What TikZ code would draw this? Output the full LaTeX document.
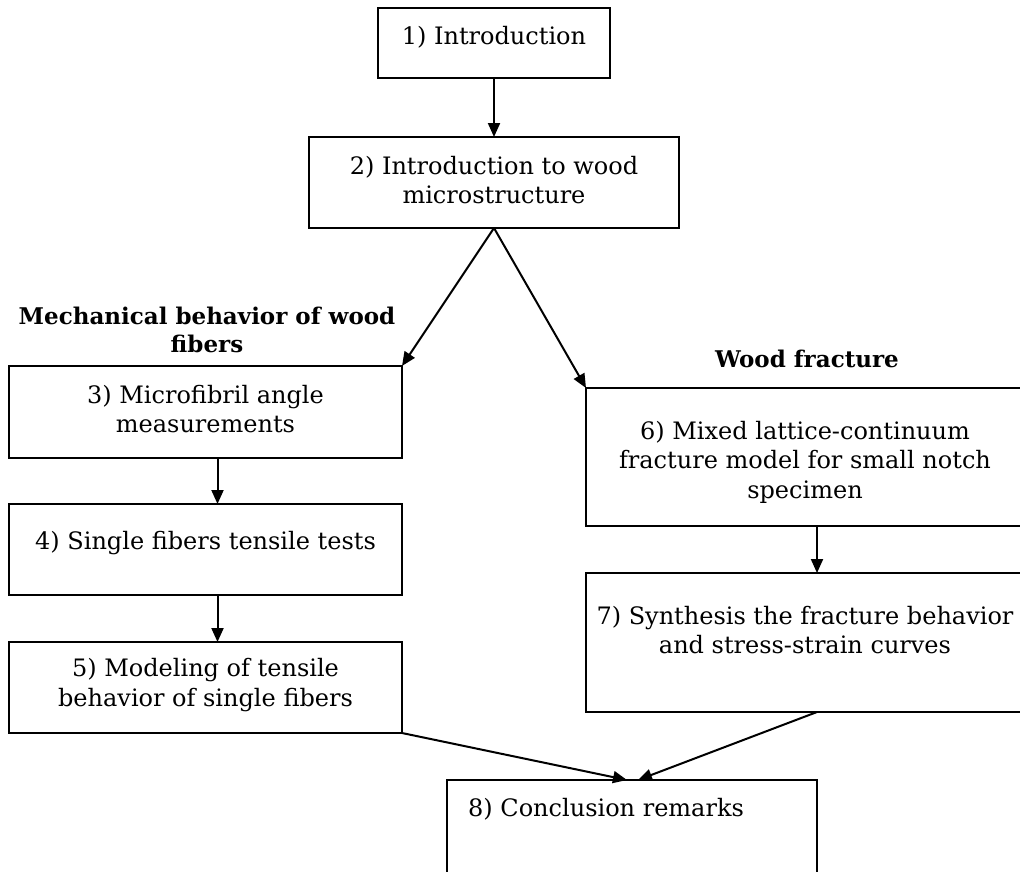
\documentclass[tikz,border=0pt]{standalone}
\usepackage{fontspec}
\setmainfont{DejaVu Serif}
\usetikzlibrary{arrows.meta}
\begin{document}
\begin{tikzpicture}[x=1pt,y=-1pt,
 box/.style={draw, line width=1.4pt, inner sep=0pt, outer sep=0pt},
 lbl/.style={align=center, font=\fontsize{24}{29.5}\selectfont, inner sep=0pt},
 hdr/.style={align=center, font=\fontsize{23}{28}\selectfont\bfseries, inner sep=0pt},
 arr/.style={line width=2pt, -{Triangle[length=14pt,width=12pt]}}]
\useasboundingbox (0,0) rectangle (1020,871);
\clip (0,0) rectangle (1020,871);
% boxes
\node[box, minimum width=232pt, minimum height=70pt] (b1) at (494,43) {};
\node[box, minimum width=370pt, minimum height=91pt] (b2) at (494,182.5) {};
\node[box, minimum width=393pt, minimum height=92pt] (b3) at (205.5,412) {};
\node[box, minimum width=393pt, minimum height=91pt] (b4) at (205.5,549.5) {};
\node[box, minimum width=393pt, minimum height=91pt] (b5) at (205.5,687.5) {};
\node[box, minimum width=438pt, minimum height=138pt] (b6) at (805,457) {};
\node[box, minimum width=438pt, minimum height=139pt] (b7) at (805,642.5) {};
\node[box, minimum width=370pt, minimum height=110pt] (b8) at (632,835) {};
% texts
\node[lbl] (t1) at (494,37) {1) Introduction};
\node[lbl] (t2) at (494,180) {2) Introduction to wood\\microstructure};
\node[hdr] (h1) at (207,330) {Mechanical behavior of wood\\fibers};
\node[hdr] (h2) at (807,359) {Wood fracture};
\node[lbl] (t3) at (205.5,409) {3) Microfibril angle\\measurements};
\node[lbl] (t4) at (205.5,543) {4) Single fibers tensile tests};
\node[lbl] (t5) at (205.5,685) {5) Modeling of tensile\\behavior of single fibers};
\node[lbl] (t6) at (805,462) {6) Mixed lattice-continuum\\fracture model for small notch\\specimen};
\node[lbl] (t7) at (805,630) {7) Synthesis the fracture behavior\\and stress-strain curves};
\node[lbl, anchor=west] (t8) at (468,809) {8) Conclusion remarks};
% arrows
\draw[arr] (b1.south) -- (b2.north);
\draw[arr] (b2.south) -- (b3.north east);
\draw[arr] (b2.south) -- (b6.north west);
\draw[arr] ([xshift=12pt]b3.south) -- ([xshift=12pt]b4.north);
\draw[arr] ([xshift=12pt]b4.south) -- ([xshift=12pt]b5.north);
\draw[arr] ([xshift=12pt]b6.south) -- ([xshift=12pt]b7.north);
\draw[arr] (b5.south east) -- ([xshift=-5pt]b8.north);
\draw[arr] ([xshift=12pt]b7.south) -- ([xshift=6pt]b8.north);
\end{tikzpicture}
\end{document}
